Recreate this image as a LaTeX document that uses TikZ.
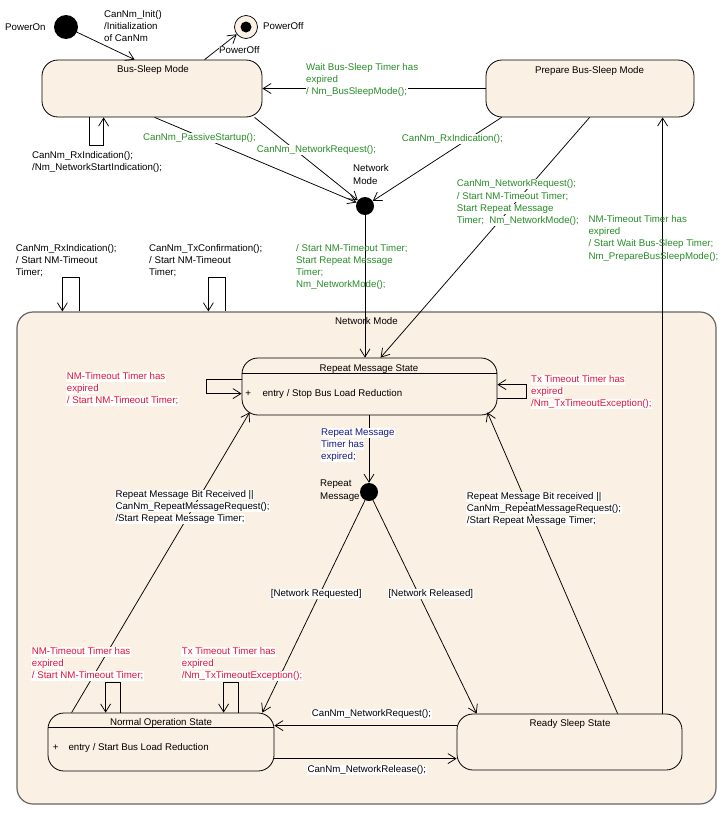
\documentclass[tikz,border=0pt]{standalone}
\usepackage{fontspec}
\setmainfont{Liberation Sans}
\usetikzlibrary{arrows.meta,calc}
\definecolor{grn}{RGB}{40,140,40}
\definecolor{rd}{RGB}{225,20,55}
\definecolor{nav}{RGB}{25,25,125}
\definecolor{beige}{RGB}{250,240,228}
\newcommand{\wlab}[1]{{\fboxsep=0.5pt\colorbox{white}{\vphantom{(}#1}}}
\newcommand{\plab}[1]{{\fboxsep=0.5pt\fboxrule=0pt\fbox{\vphantom{(}#1}}}
\begin{document}
\begin{tikzpicture}[x=1pt,y=-1pt,
  every node/.style={font=\fontsize{9.7}{12.2}\selectfont},
  st/.style={draw, fill=beige, rounded corners=16pt, line width=0.8pt, inner sep=0pt},
  arr/.style={-{Straight Barb[length=8pt,width=10pt]}, line width=0.75pt},
  ln/.style={line width=0.8pt},
  lbl/.style={anchor=north west, align=left, inner sep=0pt},
  ttl/.style={anchor=base, inner sep=0pt},
  dot/.style={circle, fill=black, inner sep=0pt}]
\useasboundingbox (0,0) rectangle (723,814);

% composite state
\node[draw=black!60, fill=beige, rounded corners=16pt, line width=1.2pt,
      minimum width=699pt, minimum height=492pt, inner sep=0pt] (nm) at (366.5,558) {};
\node[ttl] (nmt) at (366.5,324.4) {Network Mode};

% states
\node[st, minimum width=220pt, minimum height=57pt] (bs) at (152,88.5) {};
\node[ttl] (bst) at (153,72.4) {Bus-Sleep Mode};
\node[st, minimum width=208pt, minimum height=57pt] (pbs) at (590,88.5) {};
\node[ttl] (pbst) at (589.5,73.4) {Prepare Bus-Sleep Mode};

\node[st, minimum width=255pt, minimum height=57pt] (rm) at (369.5,386.5) {};
\draw[ln] ($(rm.north west)+(0,16)$) -- ($(rm.north east)+(0,16)$);
\node[ttl] (rmt) at (369,371.1) {Repeat Message State};
\node[ttl] (rmp) at (248.3,396.7) {+};
\node[anchor=base west, inner sep=0pt] (rme) at (262.3,396.7) {entry / Stop Bus Load Reduction};

\node[st, minimum width=226pt, minimum height=58pt] (no) at (161,742) {};
\draw[ln] ($(no.north west)+(0,15)$) -- ($(no.north east)+(0,15)$);
\node[ttl] (not) at (161,725.1) {Normal Operation State};
\node[ttl] (nop) at (55.7,750.1) {+};
\node[anchor=base west, inner sep=0pt] (noe) at (68.3,750.1) {entry / Start Bus Load Reduction};

\node[st, minimum width=225pt, minimum height=56pt] (rs) at (569.5,742) {};
\node[ttl] (rst) at (570,726.1) {Ready Sleep State};

% pseudo states
\node[dot, minimum size=24pt] (on) at (66,27) {};
\node[circle, draw, fill=beige, line width=0.7pt, minimum size=23pt, inner sep=0pt] (off) at (246,27) {};
\node[dot, minimum size=11pt] (offi) at (off.center) {};
\node[dot, minimum size=18pt] (nj) at (365,206) {};
\node[dot, minimum size=18pt] (rj) at (369,492) {};

% connectors
\draw[arr] (on) -- ($(bs.north west)+(93,0)$);
\draw[arr] ($(bs.north west)+(163,0)$) -- (off);
\draw[arr] (pbs.west) -- (bs.east);
\draw[arr] ($(bs.south west)+(48,0)$) -- ++(0,28) -- ++(14,0) -- ++(0,-28);
\draw[arr] ($(bs.south west)+(113,0)$) -- (nj);
\draw[arr] ($(bs.south west)+(213,0)$) -- (nj);
\draw[arr] ($(pbs.south west)+(16,0)$) -- (nj);
\draw[arr] (nj) -- (nj |- rm.north);
\draw[arr] ($(pbs.south west)+(104,0)$) -- ($(rm.north west)+(139,0)$);
\draw[arr] ($(rs.north west)+(206,0)$) -- ($(pbs.south west)+(177,0)$);
\draw[arr] ($(nm.north west)+(63,0)$) -- ++(0,-34) -- ++(-17,0) -- ++(0,34);
\draw[arr] ($(nm.north west)+(209,0)$) -- ++(0,-34) -- ++(-17,0) -- ++(0,34);
\draw[arr] ($(rm.north west)+(0,22)$) -- ++(-35,0) -- ++(0,14) -- ++(35,0);
\draw[arr] ($(rm.north east)+(0,41)$) -- ++(29,0) -- ++(0,-14) -- ++(-29,0);
\draw[arr] (rm.south -| rj) -- (rj);
\draw[arr] (rj) -- ($(no.north east)+(-12,0)$);
\draw[arr] (rj) -- ($(rs.north west)+(20,0)$);
\draw[arr] ($(no.north west)+(24,0)$) -- ($(rm.south west)+(8,-3)$);
\draw[arr] ($(rs.north west)+(161,0)$) -- ($(rm.south east)+(-10,-3)$);
\draw[arr] ($(rs.north west)+(0,12)$) -- ($(no.north east)+(0,13)$);
\draw[arr] ($(no.north east)+(0,46)$) -- ($(rs.north west)+(0,45)$);
\draw[arr] ($(no.north west)+(73,0)$) -- ++(0,-30) -- ++(-15,0) -- ++(0,30);
\draw[arr] ($(no.north west)+(191,0)$) -- ++(0,-30) -- ++(-15,0) -- ++(0,30);

% labels outside
\node[lbl] (lpon) at (4.5,22.8) {\plab{PowerOn}};
\node[lbl] (linit) at (103.5,9.8) {\plab{CanNm\_Init()}\\\plab{/Initialization}\\\plab{of CanNm}};
\node[lbl] (lpoff) at (262.5,21.8) {\plab{PowerOff}};
\node[lbl] (lpoff2) at (218.5,45.8) {\wlab{PowerOff}};
\node[lbl] (lbsl) at (31.5,150.8) {\wlab{CanNm\_RxIndication();}\\\wlab{/Nm\_NetworkStartIndication();}};
\node[lbl, text=grn] (lwait) at (305.5,62.5) {\wlab{Wait Bus-Sleep Timer has}\\\wlab{expired}\\\wlab{/ Nm\_BusSleepMode();}};
\node[lbl, text=grn] (lpas) at (142.5,133.1) {\wlab{CanNm\_PassiveStartup();}};
\node[lbl, text=grn] (lnr1) at (256.2,145.1) {\wlab{CanNm\_NetworkRequest();}};
\node[lbl, text=grn] (lrx1) at (401.2,134.1) {\wlab{CanNm\_RxIndication();}};
\node[lbl] (lnm) at (352.5,164.1) {\plab{Network}\\\plab{Mode}};
\node[lbl, text=grn] (lnj) at (295.5,243.5) {\plab{/ Start NM-Timeout Timer;}\\\plab{Start Repeat Message}\\\plab{Timer;}\\\plab{Nm\_NetworkMode();}};
\node[lbl, text=grn] (lnr2) at (456.2,179.1) {\wlab{CanNm\_NetworkRequest();}\\\wlab{/ Start NM-Timeout Timer;}\\\wlab{Start Repeat Message}\\\wlab{Timer;\ \ Nm\_NetworkMode();}};
\node[lbl, text=grn] (lprep) at (587.8,214.8) {\plab{NM-Timeout Timer has}\\\plab{expired}\\\plab{/ Start Wait Bus-Sleep Timer;}\\\plab{Nm\_PrepareBusSleepMode();}};
\node[lbl] (lrx2) at (15.2,243.5) {\plab{CanNm\_RxIndication();}\\\plab{/ Start NM-Timeout}\\\plab{Timer;}};
\node[lbl] (ltx) at (148.5,243.5) {\plab{CanNm\_TxConfirmation();}\\\plab{/ Start NM-Timeout}\\\plab{Timer;}};

% labels inside
\node[lbl, text=rd] (lrl) at (66.2,371.5) {\wlab{NM-Timeout Timer has}\\\wlab{expired}\\\wlab{/ Start NM-Timeout Timer;}};
\node[lbl, text=rd] (lrr) at (530.5,374.5) {\wlab{Tx Timeout Timer has}\\\wlab{expired}\\\wlab{/Nm\_TxTimeoutException();}};
\node[lbl, text=nav] (lrmt) at (320.5,427.5) {\wlab{Repeat Message}\\\wlab{Timer has}\\\wlab{expired;}};
\node[lbl] (lrj) at (319.5,479.1) {\plab{Repeat}\\\plab{Message}};
\node[lbl] (ldl) at (114.8,489.8) {\wlab{Repeat Message Bit Received ||}\\\wlab{CanNm\_RepeatMessageRequest();}\\\wlab{/Start Repeat Message Timer;}};
\node[lbl] (ldr) at (466.2,491.5) {\wlab{Repeat Message Bit received ||}\\\wlab{CanNm\_RepeatMessageRequest();}\\\wlab{/Start Repeat Message Timer;}};
\node[lbl] (lreq) at (270.2,588.8) {\wlab{[Network Requested]}};
\node[lbl] (lrel) at (387.8,588.8) {\wlab{[Network Released]}};
\node[lbl, text=rd] (lnl) at (31.2,646.5) {\wlab{NM-Timeout Timer has}\\\wlab{expired}\\\wlab{/ Start NM-Timeout Timer;}};
\node[lbl, text=rd] (lnr) at (181.2,646.5) {\wlab{Tx Timeout Timer has}\\\wlab{expired}\\\wlab{/Nm\_TxTimeoutException();}};
\node[lbl] (lnreq) at (311.2,708.8) {\wlab{CanNm\_NetworkRequest();}};
\node[lbl] (lnrel) at (306.8,764.8) {\wlab{CanNm\_NetworkRelease();}};
\end{tikzpicture}
\end{document}
